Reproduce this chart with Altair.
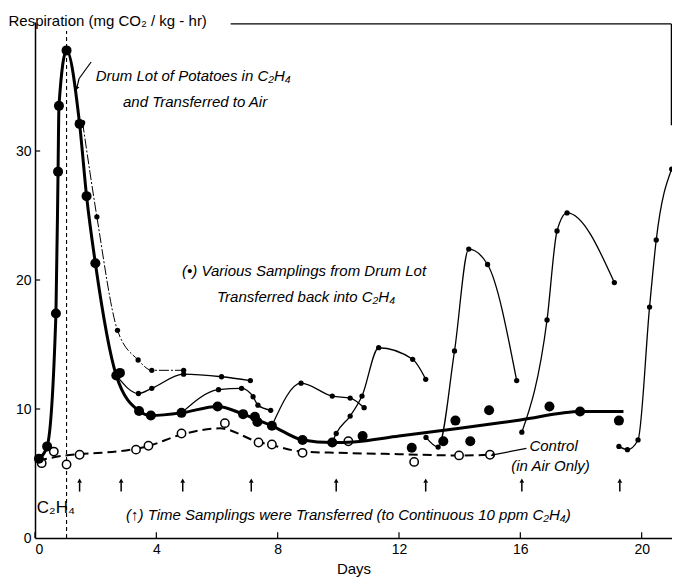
import altair as alt
import pandas as pd

FONT = "Liberation Sans"

# ---- Drum lot (large filled dots) ----
drum_days = [0.13, 0.40, 0.69, 0.76, 0.79, 1.04, 1.47, 1.70, 1.99, 2.68, 2.80, 3.43, 3.82, 4.83,
             6.02, 6.86, 7.25, 7.33, 7.81, 8.82, 9.80,
             10.80, 12.42, 13.46, 13.86, 14.35, 14.97, 16.96, 17.97, 19.25]
drum_resp = [6.15, 7.1, 17.4, 28.4, 33.5, 37.8, 32.1, 26.5, 21.3, 12.6, 12.8, 9.85, 9.5, 9.7,
             10.2, 9.6, 9.4, 9.0, 8.7, 7.6, 7.4,
             7.9, 7.0, 7.5, 9.1, 7.5, 9.9, 10.2, 9.8, 9.1]

# thick curve through the drum lot
drum_curve_days = [0.13, 0.40, 0.69, 0.76, 0.79, 1.04, 1.47, 1.70, 1.99, 2.68, 3.43, 3.82, 4.83,
                   6.02, 6.86, 7.28, 7.81, 8.82, 9.80, 10.5, 12.0, 14.0, 16.0, 18.0, 19.4]
drum_curve_resp = [6.15, 7.1, 17.4, 28.4, 33.5, 37.8, 32.1, 26.5, 21.3, 12.6, 9.85, 9.5, 9.7,
                   10.2, 9.6, 9.2, 8.7, 7.6, 7.4, 7.45, 7.9, 8.5, 9.15, 9.8, 9.8]

# ---- Control (open circles) ----
control_days = [0.22, 0.62, 1.04, 1.47, 3.33, 3.74, 4.83, 6.26, 7.37, 7.81, 8.82, 10.33, 12.5, 13.98, 15.0]
control_resp = [5.8, 6.7, 5.7, 6.45, 6.85, 7.15, 8.1, 8.9, 7.4, 7.25, 6.6, 7.5, 5.9, 6.4, 6.45]
control_curve_days = [0.1, 1.0, 1.5, 3.3, 3.7, 4.8, 6.1, 7.3, 7.8, 8.8, 10.0, 12.0, 14.0, 15.0]
control_curve_resp = [6.0, 6.4, 6.5, 6.9, 7.1, 8.0, 8.5, 7.5, 7.2, 6.7, 6.6, 6.5, 6.4, 6.45]

# ---- Various samplings transferred back into C2H4 (small dots) ----
segA_days = [1.57, 2.04, 2.72, 3.40, 3.85, 4.90]
segA_resp = [32.2, 24.9, 16.1, 13.8, 13.0, 13.0]
segB_days = [2.68, 3.41, 3.85, 4.90, 6.15, 7.10]
segB_resp = [12.6, 11.2, 11.6, 12.7, 12.5, 12.2]
segC_days = [4.83, 6.05, 6.81, 7.19, 7.35, 7.77]
segC_resp = [9.7, 11.5, 11.6, 10.95, 10.3, 9.9]
segD_days = [7.81, 8.77, 9.80, 10.39, 10.85]
segD_resp = [8.7, 12.0, 11.0, 10.85, 10.1]
segE_days = [9.80, 9.93, 10.39, 10.78, 11.33, 12.45, 12.88]
segE_resp = [7.4, 8.1, 9.45, 11.0, 14.75, 13.85, 12.3]
segF_days = [12.89, 13.29, 13.83, 14.30, 14.92, 15.88]
segF_resp = [7.8, 7.05, 14.5, 22.4, 21.2, 12.2]
segG_days = [16.05, 16.88, 17.21, 17.54, 19.10]
segG_resp = [8.2, 16.9, 23.8, 25.2, 19.8]
segH_days = [19.25, 19.53, 19.88, 20.26, 20.48, 20.99]
segH_resp = [7.1, 6.85, 7.6, 17.9, 23.1, 28.6]

# ---- Transfer times (arrows) ----
arrow_days = [1.47, 2.84, 4.87, 7.13, 9.93, 12.88, 16.05, 19.28]

x_ticks = [0, 4, 8, 12, 16, 20]
y_ticks = [0, 10, 20, 30]

XMAX, YMAX = 21.0, 40

xscale = alt.Scale(domain=[0, XMAX], nice=False, zero=False)
yscale = alt.Scale(domain=[0, YMAX], nice=False, zero=False)

xaxis = alt.Axis(values=x_ticks, title="Days", grid=False, labelFont=FONT, labelFontSize=14,
                 labelColor="black", titleFont=FONT, titleFontSize=15, titleFontWeight="normal",
                 titleColor="black", domainColor="black", domainWidth=1.5, ticks=False,
                 labelPadding=4, titlePadding=5)
yaxis = alt.Axis(values=y_ticks, title="Respiration (mg CO₂ / kg - hr)", grid=False,
                 labelFont=FONT, labelFontSize=14, labelColor="black",
                 titleFont=FONT, titleFontSize=15, titleFontWeight="normal", titleColor="black",
                 titleAngle=0, titleAlign="left", titleBaseline="middle", titleX=-27, titleY=-2,
                 domainColor="black", domainWidth=1.5, ticks=False, labelPadding=4)


def X(field="day"):
    return alt.X(f"{field}:Q", scale=xscale, axis=xaxis)


def Y(field="resp"):
    return alt.Y(f"{field}:Q", scale=yscale, axis=yaxis)


drum_df = pd.DataFrame({"day": drum_days, "resp": drum_resp})
drum_curve_df = pd.DataFrame({"day": drum_curve_days, "resp": drum_curve_resp})
control_df = pd.DataFrame({"day": control_days, "resp": control_resp})
control_curve_df = pd.DataFrame({"day": control_curve_days, "resp": control_curve_resp})

segs = {"A": (segA_days, segA_resp), "B": (segB_days, segB_resp), "C": (segC_days, segC_resp),
        "D": (segD_days, segD_resp), "E": (segE_days, segE_resp), "F": (segF_days, segF_resp),
        "G": (segG_days, segG_resp), "H": (segH_days, segH_resp)}
rows = []
for k, (ds, rs) in segs.items():
    for i, (d, r) in enumerate(zip(ds, rs)):
        rows.append({"seg": k, "day": d, "resp": r, "o": i})
seg_df = pd.DataFrame(rows)
segA_df = seg_df[seg_df.seg == "A"]
seg_rest_df = seg_df[seg_df.seg != "A"]

# inward tick marks
xt_df = pd.DataFrame({"day": x_ticks, "resp": [0] * len(x_ticks), "resp2": [0.45] * len(x_ticks)})
x_tickmarks = alt.Chart(xt_df).mark_rule(color="black", strokeWidth=1.2).encode(x=X(), y=Y(), y2="resp2:Q")
yt_df = pd.DataFrame({"resp": y_ticks[1:], "day": [0] * 3, "day2": [0.17] * 3})
y_tickmarks = alt.Chart(yt_df).mark_rule(color="black", strokeWidth=1.2).encode(x=X(), x2="day2:Q", y=Y())

# thin sampling curves
thin_lines = alt.Chart(seg_rest_df).mark_line(interpolate="monotone", color="black", strokeWidth=1.3).encode(
    x=X(), y=Y(), detail="seg:N", order="o:Q")
thin_lineA = alt.Chart(segA_df).mark_line(interpolate="monotone", color="black", strokeWidth=1.0,
                                          strokeDash=[10, 2, 2, 2]).encode(x=X(), y=Y(), order="o:Q")
small_dots = alt.Chart(seg_df).mark_point(filled=True, color="black", size=28, opacity=1).encode(x=X(), y=Y())

# thick drum curve
thick_line = alt.Chart(drum_curve_df).mark_line(interpolate="monotone", color="black", strokeWidth=3).encode(
    x=X(), y=Y())
big_dots = alt.Chart(drum_df).mark_point(filled=True, color="black", size=100, opacity=1).encode(x=X(), y=Y())

# control
control_line = alt.Chart(control_curve_df).mark_line(interpolate="monotone", color="black", strokeWidth=2,
                                                     strokeDash=[9, 5]).encode(x=X(), y=Y())
control_dots = alt.Chart(control_df).mark_point(filled=True, fill="white", stroke="black", strokeWidth=1.5,
                                                size=70, opacity=1).encode(x=X(), y=Y())

# C2H4 period boundary
vline = alt.Chart(pd.DataFrame({"day": [1.04], "resp": [0], "resp2": [39.3]})).mark_rule(
    color="black", strokeWidth=1.1, strokeDash=[4, 3]).encode(x=X(), y=Y(), y2="resp2:Q")

# frame lines (top and partial right)
frame_df = pd.DataFrame({"day": [6.45, 20.98], "day2": [20.98, 20.98], "resp": [39.85, 39.85],
                         "resp2": [39.85, 32.0]})
frame = alt.Chart(frame_df).mark_rule(color="black", strokeWidth=1.3).encode(
    x=X(), x2="day2:Q", y=Y(), y2="resp2:Q")

# transfer arrows
arrow_df = pd.DataFrame({"day": arrow_days, "resp": [3.6] * len(arrow_days), "resp2": [4.3] * len(arrow_days),
                         "head": [4.45] * len(arrow_days)})
arrow_stems = alt.Chart(arrow_df).mark_rule(color="black", strokeWidth=1.5).encode(x=X(), y=Y(), y2="resp2:Q")
arrow_heads = alt.Chart(arrow_df).mark_point(shape="triangle-up", filled=True, color="black", size=22,
                                             opacity=1).encode(x=X(), y=Y("head"))

# annotations
ann_italic = pd.DataFrame({
    "day": [2.0, 2.9, 4.85, 6.0, 16.3, 15.7, 3.0],
    "resp": [35.8, 33.8, 20.7, 18.7, 7.15, 5.6, 1.75],
    "label": ["Drum Lot of Potatoes in C₂H₄", "and Transferred to Air",
              "(•) Various Samplings from Drum Lot", "Transferred back into C₂H₄",
              "Control", "(in Air Only)",
              "(↑) Time Samplings were Transferred (to Continuous 10 ppm C₂H₄)"],
})
italic_text = alt.Chart(ann_italic).mark_text(font=FONT, fontSize=15, fontStyle="italic", align="left",
                                              baseline="middle", color="black").encode(
    x=X(), y=Y(), text="label:N")

c2h4_text = alt.Chart(pd.DataFrame({"day": [0.06], "resp": [2.3], "label": ["C₂H₄"]})).mark_text(
    font=FONT, fontSize=17, align="left", baseline="middle", color="black").encode(x=X(), y=Y(), text="label:N")

pointer_df = pd.DataFrame({"day": [1.85, 1.45, 16.2], "day2": [1.45, 1.38, 15.1],
                           "resp": [36.9, 35.6, 6.95], "resp2": [35.6, 34.9, 6.45]})
pointers = alt.Chart(pointer_df).mark_rule(color="black", strokeWidth=1.2).encode(
    x=X(), x2="day2:Q", y=Y(), y2="resp2:Q")
pointer_heads = alt.Chart(pd.DataFrame({"day": [1.38, 15.1], "resp": [34.9, 6.45], "ang": [200, 250]})).mark_point(
    shape="triangle", filled=True, color="black", size=20, opacity=1).encode(
    x=X(), y=Y(), angle=alt.Angle("ang:Q", scale=None))

chart = alt.layer(
    vline, frame, x_tickmarks, y_tickmarks, control_line, control_dots, thin_lineA, thin_lines, thick_line,
    small_dots, big_dots, arrow_stems, arrow_heads, italic_text, c2h4_text, pointers, pointer_heads
).properties(
    width=637, height=516,
    padding={"left": 27, "top": 14, "right": 0, "bottom": 39},
    autosize=alt.AutoSizeParams(type="none"),
    background="white",
).configure_view(stroke=None)

chart.save("out.html", embed_options={"renderer": "svg", "actions": False})
